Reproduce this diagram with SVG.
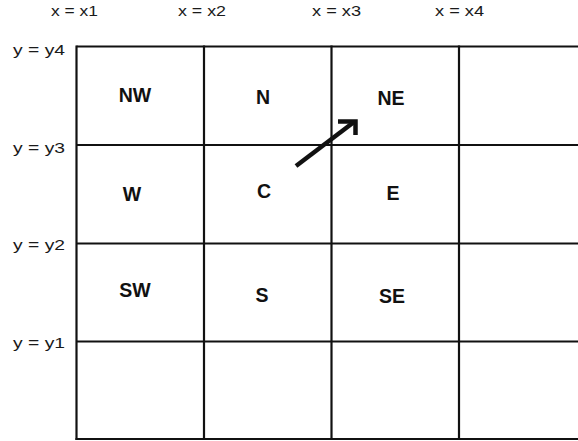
<svg xmlns="http://www.w3.org/2000/svg" width="578" height="441" viewBox="0 0 578 441">
  <defs>
    <style>
      .grid { stroke: #111; stroke-width: 2.2; fill: none; }
      .axis { font-family: "Liberation Sans", Arial, sans-serif; font-size: 15px; fill: #1a1a1a; }
      .cell { font-family: "Liberation Sans", Arial, sans-serif; font-size: 19.5px; font-weight: bold; fill: #111; text-anchor: middle; }
      .arrow { stroke: #111; stroke-width: 4.5; fill: none; stroke-linecap: butt; stroke-linejoin: miter; }
    </style>
  </defs>
  <rect width="578" height="441" fill="#fff"/>

  <g id="axis-labels">
    <text class="axis" x="51" y="16" textLength="47" lengthAdjust="spacingAndGlyphs">x = x1</text>
    <text class="axis" x="178" y="16" textLength="48" lengthAdjust="spacingAndGlyphs">x = x2</text>
    <text class="axis" x="312" y="16" textLength="49" lengthAdjust="spacingAndGlyphs">x = x3</text>
    <text class="axis" x="435" y="16" textLength="49" lengthAdjust="spacingAndGlyphs">x = x4</text>
    <text class="axis" x="13" y="55" textLength="52" lengthAdjust="spacingAndGlyphs">y = y4</text>
    <text class="axis" x="13" y="153" textLength="52" lengthAdjust="spacingAndGlyphs">y = y3</text>
    <text class="axis" x="13" y="250" textLength="52" lengthAdjust="spacingAndGlyphs">y = y2</text>
    <text class="axis" x="13" y="348" textLength="52" lengthAdjust="spacingAndGlyphs">y = y1</text>
  </g>

  <g id="grid">
    <line class="grid" x1="76.5" y1="46.5" x2="578" y2="46.5"/>
    <line class="grid" x1="76.5" y1="145" x2="578" y2="145"/>
    <line class="grid" x1="76.5" y1="243.5" x2="578" y2="243.5"/>
    <line class="grid" x1="76.5" y1="341.5" x2="578" y2="341.5"/>
    <line class="grid" x1="75.5" y1="439" x2="578" y2="439" stroke-width="3"/>
    <line class="grid" x1="76.5" y1="45.5" x2="76.5" y2="440"/>
    <line class="grid" x1="204" y1="45.5" x2="204" y2="440"/>
    <line class="grid" x1="331.5" y1="45.5" x2="331.5" y2="440"/>
    <line class="grid" x1="459" y1="45.5" x2="459" y2="440"/>
  </g>

  <g id="cell-NW"><text class="cell" x="135" y="102">NW</text></g>
  <g id="cell-N"><text class="cell" x="263" y="104">N</text></g>
  <g id="cell-NE"><text class="cell" x="391" y="105">NE</text></g>
  <g id="cell-W"><text class="cell" x="132" y="201">W</text></g>
  <g id="cell-C"><text class="cell" x="264" y="198">C</text></g>
  <g id="cell-E"><text class="cell" x="393" y="200">E</text></g>
  <g id="cell-SW"><text class="cell" x="135" y="297">SW</text></g>
  <g id="cell-S"><text class="cell" x="262" y="302">S</text></g>
  <g id="cell-SE"><text class="cell" x="392" y="303">SE</text></g>

  <g id="connectors">
    <line class="arrow" x1="296" y1="166" x2="354" y2="122"/>
    <polyline class="arrow" points="338,121.5 355.5,121.5 355.5,135"/>
  </g>
</svg>
